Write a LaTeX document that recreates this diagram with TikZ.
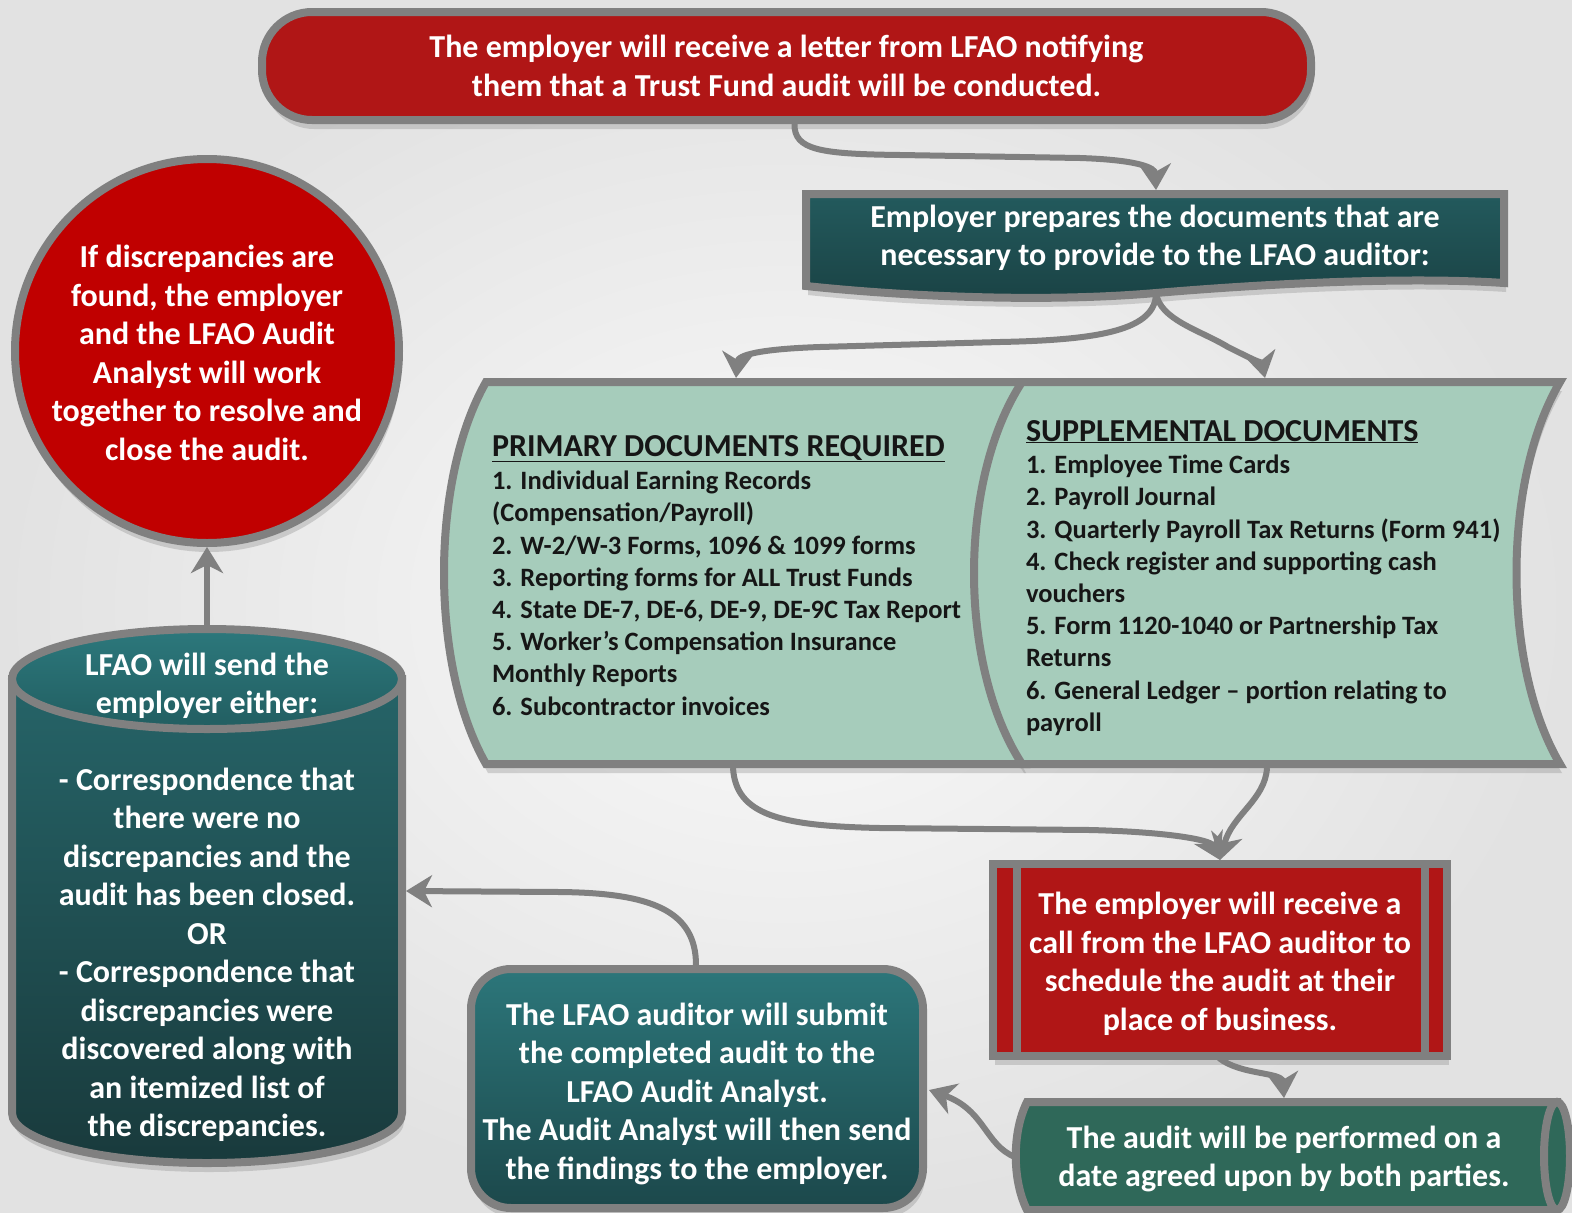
\documentclass[tikz,border=0pt]{standalone}
\usepackage{fontspec}
\setmainfont{Carlito}
\usetikzlibrary{shadows,arrows.meta}
\definecolor{bordergray}{RGB}{128,128,128}
\definecolor{redA}{RGB}{176,22,22}
\definecolor{redC}{RGB}{192,0,0}
\definecolor{tealT}{RGB}{35,90,93}
\definecolor{tealB}{RGB}{26,66,68}
\definecolor{mint}{RGB}{166,204,187}
\definecolor{cylT}{RGB}{38,100,104}
\definecolor{cylB}{RGB}{25,58,60}
\definecolor{cylE1}{RGB}{44,120,124}
\definecolor{cylE2}{RGB}{34,94,97}
\definecolor{boxT}{RGB}{44,118,122}
\definecolor{boxB}{RGB}{28,72,75}
\definecolor{greenbox}{RGB}{47,104,89}
\definecolor{txtdark}{RGB}{22,22,22}
\definecolor{bgin}{RGB}{250,250,250}
\definecolor{bgout}{RGB}{226,226,226}
\begin{document}
\begin{tikzpicture}[x=1pt,y=-1pt,
  outl/.style={draw=bordergray, line width=8pt},
  shad/.style={drop shadow={shadow xshift=2pt, shadow yshift=-9pt, opacity=0.3}},
  big/.style={font=\fontsize{32}{38.5}\selectfont\bfseries, text=white, align=center, inner sep=0pt},
  head/.style={font=\fontsize{32}{38}\selectfont\bfseries, text=txtdark, inner sep=0pt, anchor=base west},
  list/.style={font=\fontsize{26.5}{32.2}\selectfont\bfseries, text=txtdark, align=left, inner sep=0pt, anchor=north west},
  arr/.style={draw=bordergray, line width=6pt, -{Stealth[length=26pt,width=32pt,inset=8pt]}},
  every node/.style={outer sep=0pt}
]
\useasboundingbox (0,0) rectangle (1572,1213);
\shade[inner color=bgin, outer color=bgout] (0,0) rectangle (1572,1213);

% ---- top pill
\node[outl, fill=redA, rounded corners=50pt, minimum width=1049pt, minimum height=108pt, shad, big] (top) at (786.5,66)
  {The employer will receive a letter from LFAO notifying\\them that a Trust Fund audit will be conducted.};

% ---- employer document box
\path[outl, top color=tealT, bottom color=tealB, shad]
  (806,194) -- (1504,194) -- (1504,283)
  .. controls (1400,276) and (1250,285) .. (1156,293)
  .. controls (1040,303) and (900,296) .. (806,286) -- cycle;
\node[big] (emp) at (1155,238) {Employer prepares the documents that are\\necessary to provide to the LFAO auditor:};
\coordinate (empTop) at (1156,190);
\coordinate (empBot) at (1156,293);

% ---- primary documents
\path[outl, fill=mint, shad]
  (486,382) -- (1024,382) .. controls (970,480) and (970,666) .. (1024,764)
  -- (486,764) .. controls (430,666) and (430,480) .. (486,382) -- cycle;
\coordinate (primTop) at (736,378);
\coordinate (primBot) at (733,768);
\node[head] (primH) at (492,456) {\underline{PRIMARY DOCUMENTS REQUIRED}};
\node[list] (primL) at (492,471) {1. Individual Earning Records\\(Compensation/Payroll)\\2. W-2/W-3 Forms, 1096 \& 1099 forms\\3. Reporting forms for ALL Trust Funds\\4. State DE-7, DE-6, DE-9, DE-9C Tax Report\\5. Worker’s Compensation Insurance\\Monthly Reports\\6. Subcontractor invoices};

% ---- supplemental documents
\path[outl, fill=mint, shad]
  (1022,382) -- (1560,382) .. controls (1502,480) and (1502,666) .. (1560,764)
  -- (1022,764) .. controls (958,666) and (958,480) .. (1022,382) -- cycle;
\coordinate (suppTop) at (1265,378);
\coordinate (suppBot) at (1267,768);
\node[head] (suppH) at (1026,441) {\underline{SUPPLEMENTAL DOCUMENTS}};
\node[list] (suppL) at (1026,455) {1. Employee Time Cards\\2. Payroll Journal\\3. Quarterly Payroll Tax Returns (Form 941)\\4. Check register and supporting cash\\vouchers\\5. Form 1120-1040 or Partnership Tax\\Returns\\6. General Ledger – portion relating to\\payroll};

% ---- circle
\node[circle, outl, fill=redC, minimum size=384pt, shad] (circ) at (207,351) {};
\node[big] (circT) at (207,353) {If discrepancies are\\found, the employer\\and the LFAO Audit\\Analyst will work\\together to resolve and\\close the audit.};

% ---- cylinder
\path[outl, top color=cylT, bottom color=cylB, shad]
  (12,679) -- (12,1113) arc[start angle=180, end angle=0, x radius=195, y radius=50] -- (402,679) -- cycle;
\path[outl, top color=cylE1, bottom color=cylE2] (207,679) ellipse [x radius=195, y radius=50];
\coordinate (cylTop) at (207,625);
\coordinate (cylRight) at (406,891);
\node[big] (cylH) at (207,686) {LFAO will send the\\employer either:};
\node[big] (cylTxt) at (207,955) {- Correspondence that\\there were no\\discrepancies and the\\audit has been closed.\\OR\\- Correspondence that\\discrepancies were\\discovered along with\\an itemized list of\\the discrepancies.};

% ---- red process box
\node[outl, fill=redA, minimum width=454pt, minimum height=192pt, shad] (call) at (1220,960) {};
\draw[outl] ([xshift=24pt]call.north west) -- ([xshift=24pt]call.south west);
\draw[outl] ([xshift=-22pt]call.north east) -- ([xshift=-22pt]call.south east);
\node[big] (callT) at (1220,964) {The employer will receive a\\call from the LFAO auditor to\\schedule the audit at their\\place of business.};
\coordinate (callTop) at (1220,860);
\coordinate (callBot) at (1219,1058);

% ---- green horizontal cylinder
\path[outl, fill=greenbox, shad]
  (1027,1102) -- (1557,1102) -- (1557,1210) -- (1027,1210)
  .. controls (1012,1180) and (1012,1132) .. (1027,1102) -- cycle;
\path[outl, fill=greenbox] (1557,1156) ellipse [x radius=13, y radius=54];
\node[big] (perf) at (1284,1159) {The audit will be performed on a\\date agreed upon by both parties.};
\coordinate (perfTop) at (1284,1098);
\coordinate (perfLeft) at (1015,1157);

% ---- teal rounded box
\node[outl, top color=boxT, bottom color=boxB, rounded corners=40pt, minimum width=452pt, minimum height=239pt, shad] (submit) at (697,1088.5) {};
\node[big] (subT) at (697,1093.5) {The LFAO auditor will submit\\the completed audit to the\\LFAO Audit Analyst.\\The Audit Analyst will then send\\the findings to the employer.};
\coordinate (subTop) at (696,965);
\coordinate (subRight) at (929,1090);

% ---- arrows
\draw[arr] ([xshift=8pt,yshift=-4pt]top.south) .. controls (794,150) and (820,154) .. (900,155)
  -- (1080,158) .. controls (1140,160) and (1155,168) .. (empTop);
\draw[arr] (empBot) .. controls (1156,330) and (1100,340) .. (1000,342)
  -- (820,347) .. controls (760,349) and (738,355) .. (primTop);
\draw[arr] (empBot) .. controls (1160,320) and (1200,330) .. (1228,347)
  .. controls (1250,358) and (1262,364) .. (suppTop);
\draw[arr] (primBot) .. controls (736,815) and (780,826) .. (880,828)
  -- (1090,830) .. controls (1170,832) and (1210,840) .. (callTop);
\draw[arr] (suppBot) .. controls (1265,800) and (1232,815) .. (callTop);
\draw[arr] (callBot) .. controls (1240,1075) and (1282,1072) .. (perfTop);
\draw[arr] (perfLeft) .. controls (985,1145) and (985,1110) .. (subRight);
\draw[arr] (subTop) .. controls (696,910) and (650,893) .. (560,892) -- (cylRight);
\draw[arr] (cylTop) -- ([yshift=-4pt]circ.south);
\end{tikzpicture}
\end{document}
